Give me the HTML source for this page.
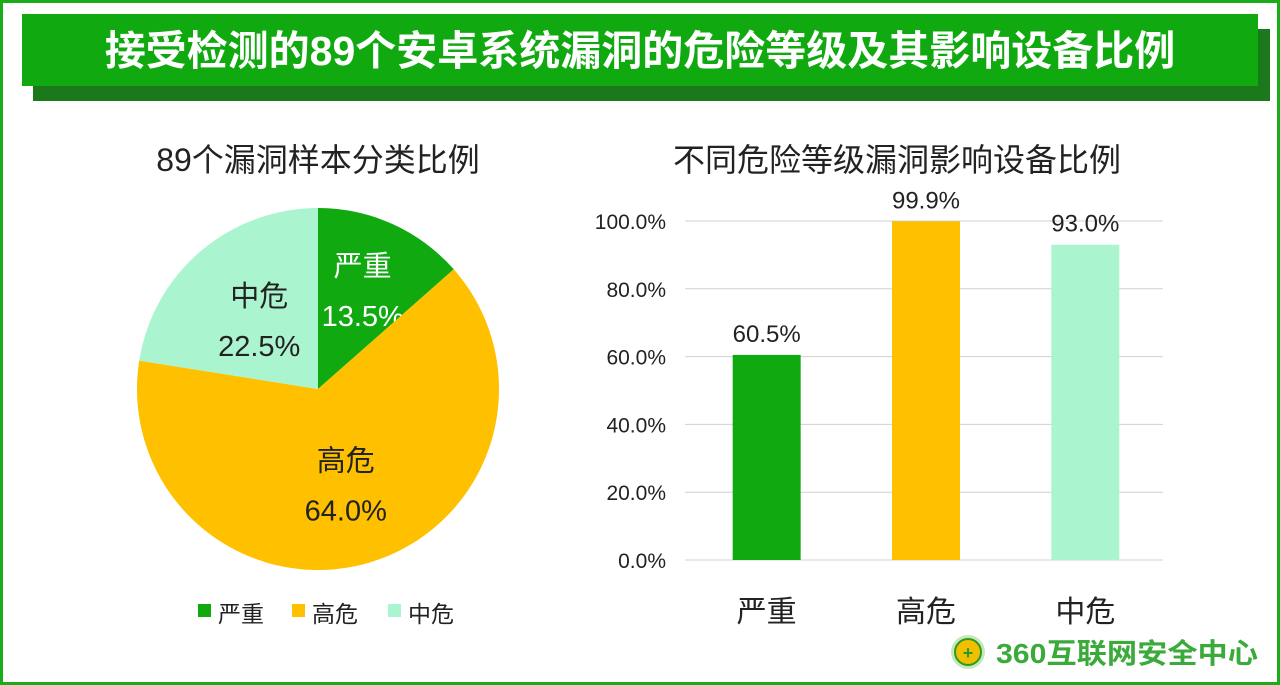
<!DOCTYPE html>
<html><head><meta charset="utf-8"><style>
body{margin:0;width:1280px;height:685px;overflow:hidden;background:#fff;font-family:"Liberation Sans","Noto Sans CJK SC",sans-serif;}
#frame{position:absolute;left:0;top:0;width:1274px;height:679px;border:3px solid #1aab1a;}
</style></head><body>
<div id="frame"></div>
<div style="position:absolute;left:33px;top:29px;width:1237px;height:72px;background:#1b781b"></div>
<div style="position:absolute;left:22px;top:14px;width:1236px;height:72px;background:#10a910;color:#fff;font-weight:bold;font-size:41px;line-height:74px;text-align:center;font-family:'Liberation Sans','Noto Sans CJK SC',sans-serif">接受检测的89个安卓系统漏洞的危险等级及其影响设备比例</div>
<svg width="1280" height="685" style="position:absolute;left:0;top:0" id="svg">
<text x="318" y="171" text-anchor="middle" font-size="32" fill="#222">89个漏洞样本分类比例</text>
<text x="897" y="171" text-anchor="middle" font-size="32" fill="#222">不同危险等级漏洞影响设备比例</text>
<g id="pie"></g><g id="bars"></g>
<g>
<circle cx="968" cy="652" r="17" fill="#8fcf6f" opacity="0.5"/>
<circle cx="968" cy="652" r="13" fill="#f0c000" stroke="#2a9a2a" stroke-width="2"/>
<text x="968" y="659" text-anchor="middle" font-size="18" font-weight="bold" fill="#2a9a2a">+</text>
<text x="996" y="663" font-size="28" font-weight="bold" fill="#3aaa3a" textLength="262" lengthAdjust="spacingAndGlyphs">360互联网安全中心</text>
</g>
</svg>
<script>
const pieLabels=["严重","高危","中危"];
const pieValues=[13.5,64.0,22.5];
const barCats=["严重","高危","中危"];
const barValues=[60.5,99.9,93.0];
const yTicks=[0,20,40,60,80,100];
const colors=["#10a910","#ffc000","#aaf5d0"];
const NS="http://www.w3.org/2000/svg";
function mk(t,a,p,txt){const e=document.createElementNS(NS,t);for(const k in a)e.setAttribute(k,a[k]);if(txt!=null)e.textContent=txt;p.appendChild(e);return e;}
const pie=document.getElementById('pie');
const cx=318,cy=389,r=181;
const tot=pieValues.reduce((a,b)=>a+b,0);
let ang=0;
const labelTextColor=["#fff","#222","#222"];
const labelR=[0.6,0.55,0.5];
pieValues.forEach((v,i)=>{
 const a0=ang/tot*2*Math.PI, a1=(ang+v)/tot*2*Math.PI; ang+=v;
 const x0=cx+r*Math.sin(a0),y0=cy-r*Math.cos(a0),x1=cx+r*Math.sin(a1),y1=cy-r*Math.cos(a1);
 const p=mk('path',{d:`M${cx},${cy}L${x0},${y0}A${r},${r} 0 ${a1-a0>Math.PI?1:0} 1 ${x1},${y1}Z`,fill:colors[i]},pie);
 
 
 const am=(a0+a1)/2, rr=r*labelR[i];
 const lx=cx+rr*Math.sin(am), ly=cy-rr*Math.cos(am);
 const t1=mk('text',{x:lx,y:ly-14,'text-anchor':'middle','font-size':29,fill:labelTextColor[i]},pie,pieLabels[i]);
 
 
 const t2=mk('text',{x:lx,y:ly+36,'text-anchor':'middle','font-size':29,fill:labelTextColor[i]},pie,v.toFixed(1)+'%');
 
 
});
const lx0=[198,292,388];
pieLabels.forEach((l,i)=>{
 const s=mk('rect',{x:lx0[i],y:604,width:13,height:13,fill:colors[i]},pie);
 
 
 const t=mk('text',{x:lx0[i]+20,y:622,'font-size':23,fill:'#222'},pie,l);
 
 
});
const bars=document.getElementById('bars');
const px0=685,px1=1163,py0=560,py1=221;
const y=v=>py0-(v/100)*(py0-py1);
const band=(px1-px0)/barCats.length;
yTicks.forEach(t=>{
 const g=mk('line',{x1:px0,x2:px1,y1:y(t),y2:y(t),stroke:'#d0d0d0','stroke-width':1},bars);
 
 
 const tx=mk('text',{x:666,y:y(t)+8,'text-anchor':'end','font-size':21,fill:'#222'},bars,t.toFixed(1)+'%');
 
 
});
barCats.forEach((c,i)=>{
 const xc=px0+band*(i+0.5)+2, w=68;
 const b=mk('rect',{x:xc-w/2,y:y(barValues[i]),width:w,height:py0-y(barValues[i]),fill:colors[i]},bars);
 
 
 const v=mk('text',{x:xc,y:y(barValues[i])-13,'text-anchor':'middle','font-size':24,fill:'#222'},bars,barValues[i].toFixed(1)+'%');
 
 
 const cl=mk('text',{x:xc,y:622,'text-anchor':'middle','font-size':30,fill:'#222'},bars,c);
 
 
});
</script>
</body></html>
